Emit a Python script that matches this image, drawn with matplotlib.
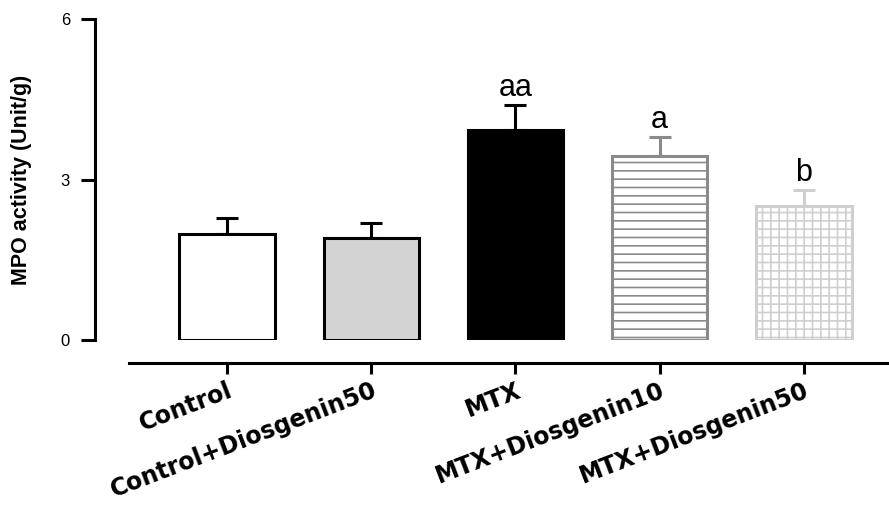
import numpy as np
import matplotlib.pyplot as plt

# Data
groups = ["Control", "Control+Diosgenin50", "MTX", "MTX+Diosgenin10", "MTX+Diosgenin50"]
mpo_mean = [1.98, 1.91, 3.93, 3.44, 2.50]
mpo_sem = [0.30, 0.28, 0.46, 0.35, 0.30]
sig_labels = ["", "", "aa", "a", "b"]

# Bar styles
fill_colors = ["white", "#d3d3d3", "black", "white", "white"]
edge_colors = ["black", "black", "black", "#8a8a8a", "#cfcfcf"]
hatches = [None, None, None, "--", "++"]

plt.rcParams["hatch.linewidth"] = 1.2

fig = plt.figure(figsize=(8.89, 5.05), dpi=100)
ax = fig.add_axes([129 / 889, 1 - 340 / 505, 760 / 889, 321 / 505])

# spines first (moving them resets the ticks)
ax.spines["top"].set_visible(False)
ax.spines["right"].set_visible(False)
ax.spines["left"].set_position(("outward", 24.5))
ax.spines["bottom"].set_position(("outward", 16.6))
ax.spines["left"].set_linewidth(2.2)
ax.spines["bottom"].set_linewidth(2.2)

x = np.arange(len(groups))
for i in range(len(groups)):
    ax.errorbar(x[i], mpo_mean[i], yerr=[[0], [mpo_sem[i]]], fmt="none",
                ecolor=edge_colors[i], elinewidth=2.2, capsize=8, capthick=2.2, zorder=1)
    ax.bar(x[i], mpo_mean[i], width=0.66, color=fill_colors[i], edgecolor=edge_colors[i],
           linewidth=2.2, hatch=hatches[i], zorder=2)
    if sig_labels[i]:
        ax.text(x[i], mpo_mean[i] + mpo_sem[i] + 0.04, sig_labels[i], ha="center", va="bottom",
                fontsize=22, family="Liberation Sans")

ax.set_xlim(-0.68, 4.59)
ax.set_ylim(0, 6)
ax.set_yticks([0, 3, 6])
ax.set_yticklabels(["0", "3", "6"], fontsize=12, family="Liberation Sans")
ax.set_xticks(x)
ax.set_xticklabels(groups, rotation=21, ha="right", rotation_mode="anchor",
                   fontsize=17, fontweight="heavy", family="DejaVu Sans")

ax.tick_params(axis="y", length=10, width=2.2, pad=8)
ax.tick_params(axis="x", length=8, width=2.2, pad=3)

ax.set_ylabel("MPO activity (Unit/g)", fontsize=15.5, fontweight="bold", family="Liberation Sans")
ax.yaxis.set_label_coords(-0.128, 0.5)

fig.savefig("out.png", dpi=100)
